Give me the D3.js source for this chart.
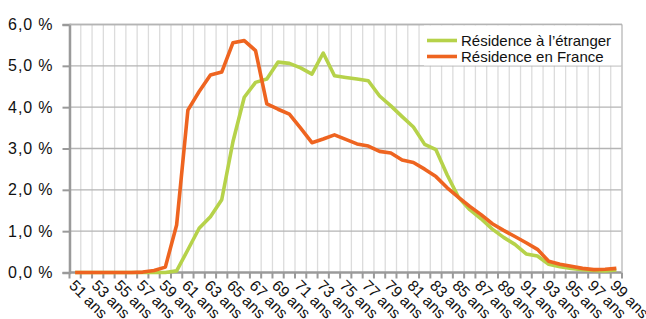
<!DOCTYPE html>
<html>
<head>
<meta charset="utf-8">
<script src="https://cdn.jsdelivr.net/npm/d3@7"></script>
<style>
  body { margin: 0; background: #fff; }
  svg { display: block; }
  text { font-family: "Liberation Sans", Arial, sans-serif; fill: #111; }
</style>
</head>
<body>
<div id="container"></div>
<script>
let w = 646;
let h = 319;

// ages 51 .. 99
let ages = d3.range(51, 100);
let ageLabels = ages.map(function(a){ return a + " ans"; });

let etranger = [
  0, 0, 0, 0, 0, 0, 0, 0, 0, 0.04,
  0.55, 1.07, 1.35, 1.76, 3.17, 4.24, 4.60, 4.68, 5.09, 5.06,
  4.95, 4.80, 5.31, 4.76, 4.72, 4.68, 4.64, 4.27, 4.03, 3.77,
  3.52, 3.10, 2.97, 2.36, 1.82, 1.52, 1.30, 1.05, 0.85, 0.68,
  0.45, 0.40, 0.20, 0.14, 0.10, 0.07, 0.05, 0.04, 0.06
];
let france = [
  0, 0, 0, 0, 0, 0, 0.01, 0.05, 0.13, 1.15,
  3.93, 4.38, 4.78, 4.85, 5.56, 5.61, 5.37, 4.08, 3.95, 3.83,
  3.49, 3.14, 3.23, 3.33, 3.22, 3.11, 3.06, 2.93, 2.89, 2.72,
  2.66, 2.50, 2.32, 2.05, 1.82, 1.60, 1.40, 1.18, 1.02, 0.87,
  0.72, 0.56, 0.27, 0.20, 0.15, 0.10, 0.07, 0.08, 0.10
];
let yTicks = [0, 1, 2, 3, 4, 5, 6];
let seriesNames = ["Résidence à l’étranger", "Résidence en France"];
let seriesColors = ["#b6d24a", "#ee6420"];

let pLeft = 69.5, pRight = 622, pTop = 24.5, pBottom = 272.5;

let viz = d3.select("#container")
  .append("svg")
    .attr("width", w)
    .attr("height", h)
;

let xScale = d3.scaleBand().domain(ages).range([pLeft, pRight]).padding(0);
let yScale = d3.scaleLinear().domain([0, 6]).range([pBottom, pTop]);

// vertical light gridlines at category boundaries
let bounds = ages.map(function(a){ return xScale(a); }).concat([pRight]);
viz.append("g").attr("class", "vgrid")
  .selectAll("line").data(bounds).enter()
  .append("line")
    .attr("x1", function(d){ return d; })
    .attr("x2", function(d){ return d; })
    .attr("y1", pTop)
    .attr("y2", pBottom)
    .attr("stroke", "#dcdcdc")
    .attr("stroke-width", 1.3)
;

// horizontal gridlines
viz.append("g").attr("class", "hgrid")
  .selectAll("line").data(yTicks.slice(1)).enter()
  .append("line")
    .attr("x1", pLeft)
    .attr("x2", pRight)
    .attr("y1", function(d){ return yScale(d); })
    .attr("y2", function(d){ return yScale(d); })
    .attr("stroke", "#b4b4b4")
    .attr("stroke-width", 1.4)
;

// y axis
let yAxis = d3.axisLeft(yScale)
  .tickValues(yTicks)
  .tickSize(7)
  .tickPadding(9)
  .tickFormat(function(d){ return d3.format(".1f")(d).replace(".", ",") + " %"; });
let yAxisGroup = viz.append("g")
    .attr("class", "yaxisgroup")
    .attr("transform", "translate(" + pLeft + ",0)")
    .call(yAxis);
yAxisGroup.select(".domain").attr("stroke", "#9a9a9a").attr("stroke-width", 2.5);
yAxisGroup.selectAll(".tick line").attr("stroke", "#9a9a9a").attr("stroke-width", 2);
yAxisGroup.selectAll(".tick text")
  .attr("font-size", "16px")
  .attr("letter-spacing", "0.9px")
  .attr("font-family", "Liberation Sans, Arial, sans-serif")
  .attr("fill", "#111");

// x axis with ticks at boundaries
let xAxisGroup = viz.append("g").attr("class", "xaxisgroup");
xAxisGroup.selectAll("line.tick").data(bounds).enter()
  .append("line")
    .attr("class", "tick")
    .attr("x1", function(d){ return d; })
    .attr("x2", function(d){ return d; })
    .attr("y1", pBottom)
    .attr("y2", pBottom + 6)
    .attr("stroke", "#9a9a9a")
    .attr("stroke-width", 2)
;
xAxisGroup.append("line")
  .attr("x1", pLeft).attr("x2", pRight)
  .attr("y1", pBottom).attr("y2", pBottom)
  .attr("stroke", "#9a9a9a")
  .attr("stroke-width", 2.5);

xAxisGroup.selectAll("text").data(ages.filter(function(a){ return a % 2 == 1; })).enter()
  .append("text")
    .text(function(d){ return ageLabels[ages.indexOf(d)]; })
    .attr("font-size", "15.5px")
    .attr("transform", function(d){
      let x = xScale(d) + xScale.bandwidth() / 2 - 7;
      return "translate(" + x + "," + (pBottom + 14) + ") rotate(45)";
    })
;

// right and top border
viz.append("line")
  .attr("x1", pRight).attr("x2", pRight).attr("y1", pTop).attr("y2", pBottom)
  .attr("stroke", "#c8c8c8").attr("stroke-width", 1.5);
viz.append("line")
  .attr("x1", pLeft).attr("x2", pRight).attr("y1", pTop).attr("y2", pTop)
  .attr("stroke", "#b4b4b4").attr("stroke-width", 1.5);

// legend background
viz.append("rect")
  .attr("x", 424).attr("y", pTop + 1)
  .attr("width", pRight - 425).attr("height", 40)
  .attr("fill", "#fff");

// lines
let line = d3.line()
  .x(function(d, i){ return xScale(ages[i]) + xScale.bandwidth() / 2; })
  .y(function(d){ return yScale(d); });

let allSeries = [etranger, france];
viz.append("g").attr("class", "graphgroup")
  .selectAll("path").data(allSeries).enter()
  .append("path")
    .attr("d", function(d){ return line(d); })
    .attr("fill", "none")
    .attr("stroke", function(d, i){ return seriesColors[i]; })
    .attr("stroke-width", 3.6)
    .attr("stroke-linejoin", "round")
;

// legend
let legend = viz.append("g").attr("class", "legend");
let legendItems = legend.selectAll("g").data(seriesNames).enter()
  .append("g")
    .attr("transform", function(d, i){ return "translate(427," + (40.5 + i * 16) + ")"; });
legendItems.append("line")
  .attr("x1", 0).attr("x2", 30)
  .attr("stroke", function(d, i){ return seriesColors[i]; })
  .attr("stroke-width", 3.6);
legendItems.append("text")
  .text(function(d){ return d; })
  .attr("x", 34)
  .attr("y", 5.5)
  .attr("font-size", "15px");
</script>
</body>
</html>
